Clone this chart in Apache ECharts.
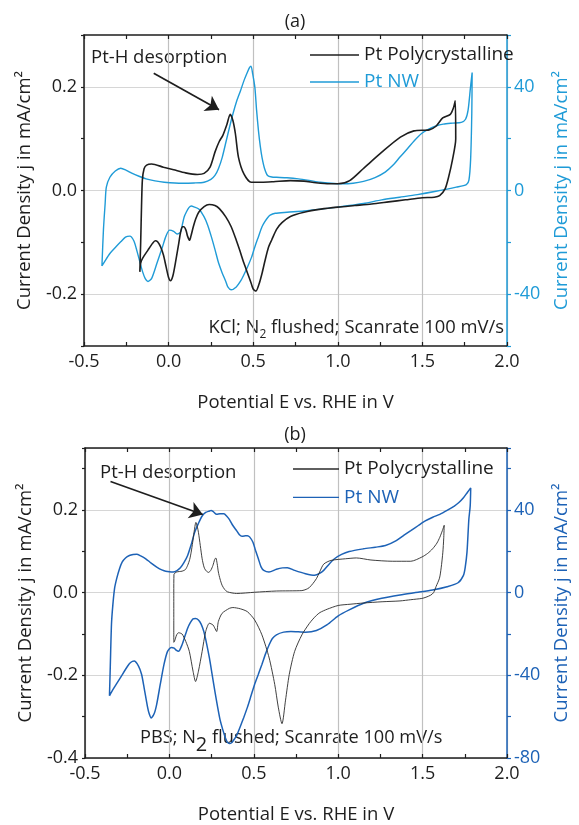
<!DOCTYPE html>
<html><head><meta charset="utf-8">
<script src="https://cdn.jsdelivr.net/npm/echarts@6/dist/echarts.min.js"></script>
<style>html,body{margin:0;padding:0;background:#fff}#c{width:579px;height:825px}</style>
</head><body><div id="c"></div>
<script>
// ---------- (a) KCl ----------
const aPolyE = [-0.17,-0.165,-0.16,-0.155,-0.145,-0.13,-0.1,-0.03,0.03,0.1,0.17,0.21,0.245,0.275,0.3,0.32,0.345,0.364,0.38,0.395,0.413,0.445,0.488,0.55,0.62,0.72,0.8,0.87,0.95,1.0,1.07,1.15,1.26,1.37,1.45,1.54,1.58,1.62,1.665,1.684,1.694,
  1.697,1.677,1.655,1.634,1.602,1.57,1.5,1.4,1.3,1.2,1.1,1.0,0.9,0.8,0.72,0.67,0.638,0.61,0.59,0.57,0.552,0.535,0.516,0.5,0.488,0.465,0.445,0.42,0.4,0.37,0.338,0.3,0.274,0.24,0.21,0.178,0.16,0.146,0.132,0.124,0.112,0.103,0.09,0.081,0.07,0.06,0.04,0.025,0.011,0.0,-0.015,-0.03,-0.047,-0.065,-0.079,-0.095,-0.122,-0.154,-0.165,-0.17];
const aPolyJ = [-0.157,-0.1,-0.03,0.02,0.042,0.049,0.051,0.045,0.04,0.034,0.031,0.033,0.045,0.075,0.095,0.106,0.128,0.147,0.135,0.109,0.064,0.032,0.016,0.016,0.017,0.019,0.018,0.015,0.013,0.013,0.019,0.042,0.074,0.103,0.115,0.117,0.124,0.14,0.147,0.16,0.173,
  0.1,0.058,0.026,0.003,-0.01,-0.013,-0.014,-0.018,-0.022,-0.026,-0.029,-0.032,-0.036,-0.042,-0.05,-0.062,-0.075,-0.095,-0.11,-0.135,-0.16,-0.18,-0.194,-0.19,-0.179,-0.158,-0.14,-0.115,-0.096,-0.07,-0.051,-0.035,-0.029,-0.027,-0.031,-0.042,-0.055,-0.07,-0.088,-0.096,-0.088,-0.077,-0.07,-0.07,-0.082,-0.102,-0.14,-0.165,-0.174,-0.168,-0.147,-0.125,-0.109,-0.099,-0.097,-0.102,-0.115,-0.131,-0.14,-0.157];
const aNwE = [-0.394,-0.385,-0.375,-0.368,-0.347,-0.315,-0.283,-0.25,-0.218,-0.175,-0.133,-0.08,-0.026,0.081,0.15,0.21,0.25,0.274,0.295,0.317,0.34,0.36,0.38,0.403,0.425,0.445,0.465,0.478,0.487,0.497,0.51,0.52,0.531,0.542,0.552,0.567,0.585,0.61,0.638,0.7,0.767,0.83,0.895,0.96,1.024,1.09,1.152,1.22,1.28,1.33,1.366,1.41,1.452,1.495,1.537,1.58,1.623,1.68,1.73,1.755,1.77,1.784,1.794,
  1.792,1.785,1.775,1.76,1.7,1.58,1.47,1.366,1.26,1.152,1.0,0.9,0.8,0.7,0.63,0.6,0.585,0.567,0.552,0.53,0.51,0.49,0.467,0.445,0.424,0.4,0.37,0.35,0.338,0.315,0.296,0.275,0.253,0.23,0.21,0.18,0.146,0.135,0.12,0.105,0.092,0.082,0.071,0.05,0.03,0.006,-0.015,-0.036,-0.069,-0.1,-0.122,-0.138,-0.154,-0.17,-0.186,-0.205,-0.229,-0.255,-0.283,-0.315,-0.347,-0.379,-0.394];
const aNwJ = [-29.1,-15,-5,1.3,5.1,7.5,8.6,7.8,6.7,5.5,4.5,3.7,3.2,2.8,2.9,3.2,4.3,5.8,8.5,12.8,19,24.4,29.5,34.6,38.5,42.3,45.5,47.4,48,45,39.7,31,23.1,17,12.8,8.5,5.8,5.2,5.1,4.9,4.5,3.9,3.2,2.8,2.6,2.8,3.5,5,7.1,10,12.8,16,19.2,22,23.7,24.9,25.6,26,26.3,27.5,31,39.7,45.5,
  30,12,4,2.3,1.3,-0.3,-1.6,-2.6,-3.6,-5.0,-6.4,-7.2,-7.9,-8.4,-8.8,-9.5,-10.5,-12.2,-14,-18,-21.7,-25.8,-29.4,-32.5,-35.1,-37.2,-38.3,-37.2,-35.1,-31.5,-28.1,-23,-17.9,-13.2,-10.2,-7.2,-6.2,-6.0,-6.6,-8.3,-10.2,-13,-16,-16.8,-15.8,-15.3,-17.5,-21.7,-28.1,-33.9,-35.1,-34,-31.3,-27.5,-23.6,-19.5,-17.6,-18,-19.8,-22,-24.3,-27.5,-29.1];

// ---------- (b) PBS ----------
const bPolyE = [0.026,0.026,0.026,0.027,0.043,0.075,0.095,0.108,0.12,0.129,0.138,0.146,0.157,0.165,0.172,0.183,0.194,0.205,0.215,0.232,0.245,0.258,0.268,0.275,0.283,0.29,0.3,0.312,0.327,0.344,0.398,0.505,0.634,0.785,0.81,0.828,0.85,0.871,0.89,0.914,0.957,1.043,1.108,1.194,1.323,1.43,1.495,1.53,1.559,1.585,1.602,1.617,1.628,
  1.625,1.62,1.61,1.6,1.58,1.565,1.548,1.52,1.495,1.43,1.366,1.26,1.15,1.07,1.0,0.935,0.892,0.871,0.85,0.828,0.785,0.742,0.71,0.688,0.667,0.645,0.624,0.591,0.548,0.505,0.462,0.42,0.376,0.355,0.312,0.29,0.28,0.268,0.258,0.237,0.215,0.194,0.172,0.155,0.14,0.118,0.097,0.075,0.054,0.043,0.03,0.026];
const bPolyJ = [-0.12,-0.06,0.0,0.044,0.05,0.052,0.056,0.066,0.08,0.098,0.122,0.146,0.17,0.16,0.146,0.114,0.082,0.062,0.054,0.049,0.054,0.066,0.08,0.084,0.07,0.05,0.033,0.018,0.008,0.002,-0.002,0.001,0.004,0.005,0.008,0.012,0.022,0.034,0.05,0.069,0.078,0.082,0.084,0.079,0.076,0.076,0.086,0.095,0.106,0.12,0.134,0.15,0.163,
  0.13,0.098,0.06,0.035,0.015,0.0,-0.006,-0.011,-0.014,-0.017,-0.02,-0.022,-0.025,-0.028,-0.031,-0.04,-0.048,-0.055,-0.064,-0.075,-0.102,-0.142,-0.198,-0.26,-0.317,-0.277,-0.222,-0.158,-0.102,-0.066,-0.046,-0.039,-0.036,-0.038,-0.05,-0.07,-0.094,-0.085,-0.078,-0.074,-0.094,-0.142,-0.19,-0.215,-0.19,-0.142,-0.118,-0.1,-0.097,-0.102,-0.118,-0.12];
const bNwE = [-0.355,-0.35,-0.343,-0.335,-0.325,-0.312,-0.296,-0.28,-0.26,-0.237,-0.215,-0.194,-0.17,-0.14,-0.108,-0.075,-0.045,-0.022,0.0,0.022,0.045,0.065,0.086,0.108,0.13,0.15,0.172,0.194,0.215,0.237,0.247,0.26,0.28,0.3,0.323,0.34,0.355,0.376,0.398,0.415,0.43,0.45,0.462,0.475,0.495,0.51,0.527,0.543,0.559,0.59,0.634,0.67,0.699,0.742,0.806,0.86,0.89,0.914,0.946,0.978,1.02,1.065,1.15,1.22,1.28,1.344,1.39,1.43,1.475,1.516,1.56,1.602,1.645,1.688,1.715,1.742,1.765,1.785,
  1.782,1.774,1.763,1.752,1.742,1.71,1.645,1.559,1.473,1.366,1.258,1.15,1.065,1.0,0.935,0.871,0.806,0.72,0.677,0.634,0.61,0.591,0.57,0.548,0.527,0.505,0.484,0.462,0.44,0.419,0.4,0.387,0.37,0.355,0.343,0.333,0.317,0.301,0.285,0.269,0.253,0.237,0.22,0.204,0.188,0.172,0.155,0.14,0.124,0.108,0.09,0.075,0.054,0.04,0.028,0.011,-0.011,-0.032,-0.054,-0.075,-0.09,-0.108,-0.12,-0.129,-0.15,-0.165,-0.183,-0.209,-0.23,-0.247,-0.29,-0.333,-0.355];
const bNwJ = [-49.9,-35,-15,-5.9,2,6.9,11.5,14.8,16.8,18,18.5,18.6,17.8,16.4,14.3,12.4,11,10.4,10.1,10,10.7,12,14.5,18,23.5,29.2,33.5,37.1,38.8,39.5,39.8,39.2,37.9,38.2,38.2,37,35.5,32.5,30,28,27.3,27.5,27.6,27,24.4,20.5,16.4,12.5,10.8,10,11.3,12,12.1,10.8,9.2,8.4,9.3,10.8,13.8,16.4,18.5,19.9,21.2,22,22.8,25.2,27.8,30,32.5,34.7,36.5,37.9,39.8,41.9,43.6,45.9,48.5,50.7,
  42,35.5,19.6,12,8.4,4.8,2.9,1.3,0.2,-1.1,-2.7,-5.1,-8.3,-11.2,-15.5,-18.3,-19.1,-18.8,-19.1,-20.4,-22.2,-25.2,-29.5,-34.7,-39.5,-44.3,-49.8,-55.5,-60.5,-65,-68.8,-70.6,-72.5,-73,-72.3,-70.6,-66.5,-61.8,-55,-47.5,-39.5,-31.6,-24.5,-18.8,-15.2,-13.2,-12.5,-12.7,-14.5,-17.2,-21.5,-25.2,-28.4,-27.8,-26.8,-26.5,-28.4,-34.7,-44.3,-53.9,-58.5,-60.6,-58.5,-55.5,-45.9,-39.5,-35.5,-33.1,-33.8,-35.5,-41.1,-46.7,-49.9];

// arrows (data coordinates: potential, left-axis current)
const aArrow = [[-0.088, 0.226], [0.298, 0.156]];
const bArrow = [[-0.349, 0.269], [0.198, 0.189]];

const xTicks = [-0.5, 2.0, 0.5];
const aLeft = [-0.3, 0.3, 0.1], aRight = [-60, 60, 20];
const bLeft = [-0.4, 0.35, 0.1], bRight = [-80, 70, 20];

const FONT = 'Open Sans';
const BLACK = '#1e1e1e';
const BLUE_A = '#1f9bd7';
const BLUE_B = '#1d62b6';
const zip = (xs, ys) => xs.map((x, i) => [x, ys[i]]);

function leftFmt(v) {
  const t = v * 10;
  if (Math.abs(t - Math.round(t)) > 1e-6) return '';
  const r = Math.round(t);
  return (r % 2 === 0) ? (r / 10).toFixed(1) : '';
}
function rightFmt(v) {
  const r = Math.round(v);
  return (r % 40 === 0) ? String(r) : '';
}

function xAxes(grid) {
  return [{
    type: 'value', gridIndex: grid, position: 'bottom', min: xTicks[0], max: xTicks[1], interval: xTicks[2],
    name: 'Potential E vs. RHE in V', nameLocation: 'middle', nameGap: 47,
    nameTextStyle: { fontFamily: FONT, fontSize: 18.5, color: BLACK },
    axisLine: { onZero: false, lineStyle: { color: BLACK, width: 1.5 } },
    axisTick: { inside: true, length: 4, lineStyle: { color: BLACK, width: 1.2 } },
    minorTick: { show: true, splitNumber: 2, length: 4, lineStyle: { color: BLACK, width: 1.2 } },
    axisLabel: { fontFamily: FONT, fontSize: 18, color: BLACK, margin: 7, formatter: v => v.toFixed(1) },
    splitLine: { show: true, lineStyle: { color: '#c0c0c0', width: 1.2 } }
  }, {
    type: 'value', gridIndex: grid, position: 'top', min: xTicks[0], max: xTicks[1], interval: 0.25,
    axisLine: { onZero: false, lineStyle: { color: BLACK, width: 1.5 } },
    axisTick: { inside: true, length: 4, lineStyle: { color: BLACK, width: 1.2 } },
    axisLabel: { show: false }, splitLine: { show: false }
  }];
}
function yAxes(grid, L, R, blue, splitColors) {
  return [{
    type: 'value', gridIndex: grid, position: 'left', min: L[0], max: L[1], interval: L[2],
    name: 'Current Density j in mA/cm²', nameLocation: 'middle', nameGap: 50,
    nameTextStyle: { fontFamily: FONT, fontSize: 18.5, color: BLACK },
    axisLine: { show: true, onZero: false, lineStyle: { color: BLACK, width: 1.5 } },
    axisTick: { show: true, length: 3, lineStyle: { color: BLACK, width: 1.2 } },
    axisLabel: { fontFamily: FONT, fontSize: 18, color: BLACK, margin: 7, formatter: leftFmt },
    splitLine: { show: true, lineStyle: { color: splitColors, width: 1 } }
  }, {
    type: 'value', gridIndex: grid, position: 'right', min: R[0], max: R[1], interval: R[2],
    name: 'Current Density j in mA/cm²', nameLocation: 'middle', nameGap: 45,
    nameTextStyle: { fontFamily: FONT, fontSize: 18.5, color: blue },
    axisLine: { show: true, onZero: false, lineStyle: { color: blue, width: 1.5 } },
    axisTick: { show: true, length: 4, lineStyle: { color: blue, width: 1.2 } },
    axisLabel: { fontFamily: FONT, fontSize: 18, color: blue, margin: 7, formatter: rightFmt },
    splitLine: { show: false }
  }];
}
function arrow(pts) {
  return {
    silent: true, symbol: ['none', 'arrow'], symbolSize: 13, label: { show: false },
    lineStyle: { color: BLACK, width: 1.7, type: 'solid' },
    itemStyle: { color: BLACK },
    emphasis: { disabled: true },
    data: [[{ coord: pts[0] }, { coord: pts[1] }]]
  };
}

const chart = echarts.init(document.getElementById('c'), null, { renderer: 'canvas' });
chart.setOption({
  animation: false,
  backgroundColor: '#fff',
  textStyle: { fontFamily: FONT },
  grid: [
    { left: 84, top: 35, width: 431, height: 311 },
    { left: 85, top: 448, width: 430, height: 313 }
  ],
  xAxis: [...xAxes(0), ...xAxes(1)],
  yAxis: [...yAxes(0, aLeft, aRight, BLUE_A, ['rgba(0,0,0,0)', '#d6d6d6']),
          ...yAxes(1, bLeft, bRight, BLUE_B, ['#d6d6d6', 'rgba(0,0,0,0)'])],
  legend: [
    { orient: 'vertical', left: 305, top: 40, icon: 'rect', itemWidth: 49, itemHeight: 1.6, itemGap: 7,
      textStyle: { fontFamily: FONT, fontSize: 19, lineHeight: 20 },
      data: [{ name: 'Pt Polycrystalline', textStyle: { color: BLACK } }, { name: 'Pt NW', textStyle: { color: BLUE_A } }] },
    { orient: 'vertical', left: 288, top: 454, icon: 'rect', itemWidth: 46, itemHeight: 1.4, itemGap: 8.4,
      textStyle: { fontFamily: FONT, fontSize: 19, lineHeight: 20 },
      data: [{ name: 'Pt Polycrystalline ', textStyle: { color: BLACK } }, { name: 'Pt NW ', textStyle: { color: BLUE_B } }] }
  ],
  series: [
    { name: 'Pt Polycrystalline', type: 'line', xAxisIndex: 0, yAxisIndex: 0, data: zip(aPolyE, aPolyJ),
      symbol: 'none', smooth: 0.25, lineStyle: { color: BLACK, width: 1.6 }, itemStyle: { color: BLACK },
      markLine: arrow(aArrow), z: 3 },
    { name: 'Pt NW', type: 'line', xAxisIndex: 0, yAxisIndex: 1, data: zip(aNwE, aNwJ),
      symbol: 'none', smooth: 0.25, lineStyle: { color: BLUE_A, width: 1.4 }, itemStyle: { color: BLUE_A }, z: 2 },
    { name: 'Pt Polycrystalline ', type: 'line', xAxisIndex: 2, yAxisIndex: 2, data: zip(bPolyE, bPolyJ),
      symbol: 'none', smooth: 0.25, lineStyle: { color: '#2a2a2a', width: 0.9 }, itemStyle: { color: '#2a2a2a' },
      markLine: arrow(bArrow), z: 3 },
    { name: 'Pt NW ', type: 'line', xAxisIndex: 2, yAxisIndex: 3, data: zip(bNwE, bNwJ),
      symbol: 'none', smooth: 0.25, lineStyle: { color: BLUE_B, width: 1.5 }, itemStyle: { color: BLUE_B }, z: 2 }
  ],
  graphic: [
    { type: 'text', x: 295, y: 22, style: { text: '(a)', fontFamily: FONT, fontSize: 18, fill: BLACK, align: 'center', verticalAlign: 'middle' } },
    { type: 'text', x: 91, y: 58, style: { text: 'Pt-H desorption', fontFamily: FONT, fontSize: 18.5, fill: BLACK, verticalAlign: 'middle' } },
    { type: 'text', x: 504, y: 328, style: { text: 'KCl; N{s|2} flushed; Scanrate 100 mV/s', fontFamily: FONT, fontSize: 18.4, fill: BLACK,
        align: 'right', verticalAlign: 'middle', rich: { s: { fontFamily: FONT, fontSize: 12, fill: BLACK, padding: [13, 0, 0, 0] } } } },
    { type: 'text', x: 295, y: 435, style: { text: '(b)', fontFamily: FONT, fontSize: 18, fill: BLACK, align: 'center', verticalAlign: 'middle' } },
    { type: 'text', x: 100, y: 473, style: { text: 'Pt-H desorption', fontFamily: FONT, fontSize: 18.5, fill: BLACK, verticalAlign: 'middle' } },
    { type: 'text', x: 140, y: 738, style: { text: 'PBS; N{s|2} flushed; Scanrate 100 mV/s', fontFamily: FONT, fontSize: 18.2, fill: BLACK,
        verticalAlign: 'middle', rich: { s: { fontFamily: FONT, fontSize: 20, fill: BLACK, padding: [14, 0, 0, 0] } } } }
  ]
});
</script>
</body></html>
